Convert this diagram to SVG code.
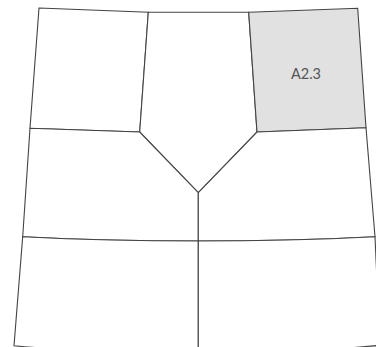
<svg xmlns="http://www.w3.org/2000/svg" width="376" height="347" viewBox="0 0 376 347">
<style>
.cell{fill:#ffffff;stroke:#444444;stroke-width:1.1;stroke-linejoin:miter}
.hl{fill:#e1e1e1}
.lbl{font-family:Lato,"Liberation Sans",sans-serif;font-size:14.5px;fill:#555555;text-anchor:middle}
</style>
<rect width="376" height="347" fill="#ffffff"/>
<g id="A1"><path class="cell" d="M39,8 L148.3,12.3 L139.7,132 L30,128.3 Z"/></g>
<g id="A2"><path class="cell" d="M148.3,12.3 L248.7,12.3 L257,132 L198.3,192.7 L139.7,132 Z"/></g>
<g id="A2.3"><path class="cell hl" d="M248.7,12.3 L357.7,8.3 L366,127.7 L257,132 Z"/><text class="lbl" x="306" y="79">A2.3</text></g>
<g id="B1"><path class="cell" d="M30,128.3 L139.7,132 L198.3,192.7 L198.3,241 Q110,241 22.7,236.7 Z"/></g>
<g id="B2"><path class="cell" d="M257,132 L366,127.7 L375,236.7 Q287,241 198.3,241 L198.3,192.7 Z"/></g>
<g id="C1"><path class="cell" d="M22.7,236.7 Q110,241 198.3,241 L198.3,355 Q106,354 14,345.7 Z"/></g>
<g id="C2"><path class="cell" d="M198.3,241 Q287,241 375,236.7 L380,347 Q378,346 376,345.6 Q287,354 198.3,355 Z"/></g>
<g id="connectors"></g>
</svg>
